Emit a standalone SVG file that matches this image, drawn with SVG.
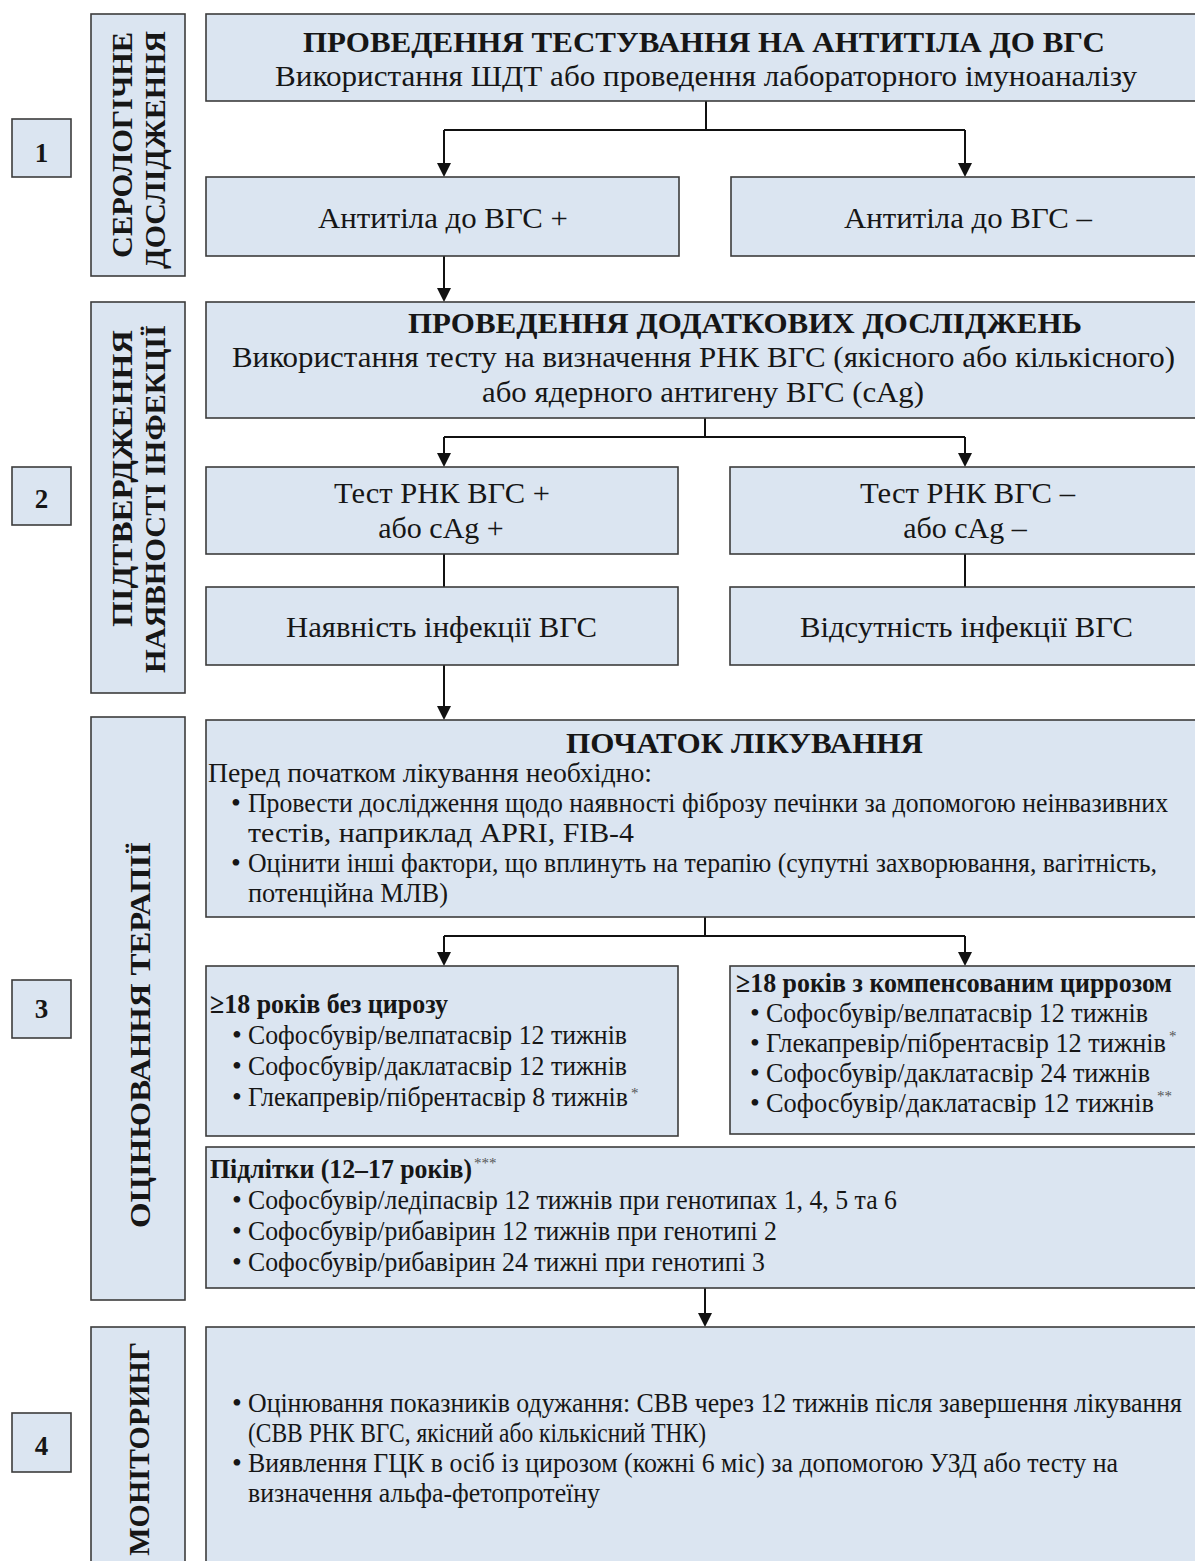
<svg xmlns="http://www.w3.org/2000/svg" width="1195" height="1561" viewBox="0 0 1195 1561">
<defs>
<style>
.box{fill:#dbe5f1;stroke:#3c3c3c;stroke-width:1.6}
.t{font-family:"Liberation Serif","Times New Roman",serif;font-size:30px;fill:#161616}
.s{font-size:28px}
.b{font-weight:bold}
.ast{font-family:"Liberation Serif","Times New Roman",serif;font-size:15px;fill:#555}
.c{fill:none;stroke:#111;stroke-width:2}
</style>
<marker id="ah" markerUnits="userSpaceOnUse" markerWidth="14" markerHeight="14" refX="4" refY="7" orient="auto" viewBox="0 0 14 14">
<path d="M0,0 L14,7 L0,14 z" fill="#111"/>
</marker>
</defs>
<rect width="1195" height="1561" fill="#ffffff"/>

<g id="connectors">
<path class="c" d="M706,101 V130 M444,130 H965"/>
<path class="c" d="M444,130 V167" marker-end="url(#ah)"/>
<path class="c" d="M965,130 V167" marker-end="url(#ah)"/>
<path class="c" d="M444,256 V292" marker-end="url(#ah)"/>
<path class="c" d="M705,418 V437 M444,437 H965"/>
<path class="c" d="M444,437 V457" marker-end="url(#ah)"/>
<path class="c" d="M965,437 V457" marker-end="url(#ah)"/>
<path class="c" d="M444,554 V587 M965,554 V587"/>
<path class="c" d="M444,665 V710" marker-end="url(#ah)"/>
<path class="c" d="M705,917 V936 M444,936 H965"/>
<path class="c" d="M444,936 V956" marker-end="url(#ah)"/>
<path class="c" d="M965,936 V956" marker-end="url(#ah)"/>
<path class="c" d="M705,1288 V1317" marker-end="url(#ah)"/>
</g>

<g id="step1">
<rect class="box" x="12" y="119" width="59" height="58"/>
<text class="t b" x="41.5" y="162" text-anchor="middle" style="font-size:27px">1</text>
</g>
<g id="step2">
<rect class="box" x="12" y="467" width="59" height="58"/>
<text class="t b" x="41.5" y="508" text-anchor="middle" style="font-size:27px">2</text>
</g>
<g id="step3">
<rect class="box" x="12" y="980" width="59" height="58"/>
<text class="t b" x="41.5" y="1018" text-anchor="middle" style="font-size:27px">3</text>
</g>
<g id="step4">
<rect class="box" x="12" y="1413" width="59" height="59"/>
<text class="t b" x="41.5" y="1455" text-anchor="middle" style="font-size:27px">4</text>
</g>

<g id="side1">
<rect class="box" x="91" y="14" width="94" height="262"/>
<text class="t b" transform="translate(132,258) rotate(-90)" textLength="226" lengthAdjust="spacingAndGlyphs">СЕРОЛОГІЧНЕ</text>
<text class="t b" transform="translate(165,269) rotate(-90)" textLength="238" lengthAdjust="spacingAndGlyphs">ДОСЛІДЖЕННЯ</text>
</g>
<g id="side2">
<rect class="box" x="91" y="302" width="94" height="391"/>
<text class="t b" transform="translate(132,627) rotate(-90)" textLength="297" lengthAdjust="spacingAndGlyphs">ПІДТВЕРДЖЕННЯ</text>
<text class="t b" transform="translate(165,673) rotate(-90)" textLength="348" lengthAdjust="spacingAndGlyphs">НАЯВНОСТІ ІНФЕКЦІЇ</text>
</g>
<g id="side3">
<rect class="box" x="91" y="717" width="94" height="583"/>
<text class="t b" transform="translate(150,1228) rotate(-90)" textLength="386" lengthAdjust="spacingAndGlyphs">ОЦІНЮВАННЯ ТЕРАПІЇ</text>
</g>
<g id="side4">
<rect class="box" x="91" y="1327" width="94" height="240"/>
<text class="t b" transform="translate(149,1342) rotate(-90)" text-anchor="end">МОНІТОРИНГ</text>
</g>

<g id="antibody-test">
<rect class="box" x="206" y="14" width="992" height="87"/>
<text class="t b" x="303" y="52" textLength="802" lengthAdjust="spacingAndGlyphs">ПРОВЕДЕННЯ ТЕСТУВАННЯ НА АНТИТІЛА ДО ВГС</text>
<text class="t" x="275" y="86" textLength="862" lengthAdjust="spacingAndGlyphs">Використання ШДТ або проведення лабораторного імуноаналізу</text>
</g>
<g id="ab-pos">
<rect class="box" x="206" y="177" width="473" height="79"/>
<text class="t" x="318" y="228" textLength="250" lengthAdjust="spacingAndGlyphs">Антитіла до ВГС +</text>
</g>
<g id="ab-neg">
<rect class="box" x="731" y="177" width="467" height="79"/>
<text class="t" x="844" y="228" textLength="248" lengthAdjust="spacingAndGlyphs">Антитіла до ВГС –</text>
</g>

<g id="additional-tests">
<rect class="box" x="206" y="302" width="992" height="116"/>
<text class="t b" x="408" y="333" textLength="674" lengthAdjust="spacingAndGlyphs">ПРОВЕДЕННЯ ДОДАТКОВИХ ДОСЛІДЖЕНЬ</text>
<text class="t" x="232" y="367" textLength="943" lengthAdjust="spacingAndGlyphs">Використання тесту на визначення РНК ВГС (якісного або кількісного)</text>
<text class="t" x="482" y="402" textLength="442" lengthAdjust="spacingAndGlyphs">або ядерного антигену ВГС (cAg)</text>
</g>
<g id="rna-pos">
<rect class="box" x="206" y="467" width="472" height="87"/>
<text class="t" x="334" y="503" textLength="216" lengthAdjust="spacingAndGlyphs">Тест РНК ВГС +</text>
<text class="t" x="441" y="538" text-anchor="middle">або cAg +</text>
</g>
<g id="rna-neg">
<rect class="box" x="730" y="467" width="468" height="87"/>
<text class="t" x="860" y="503" textLength="215" lengthAdjust="spacingAndGlyphs">Тест РНК ВГС –</text>
<text class="t" x="965" y="538" text-anchor="middle">або cAg –</text>
</g>
<g id="inf-pos">
<rect class="box" x="206" y="587" width="472" height="78"/>
<text class="t" x="286" y="637" textLength="311" lengthAdjust="spacingAndGlyphs">Наявність інфекції ВГС</text>
</g>
<g id="inf-neg">
<rect class="box" x="730" y="587" width="468" height="78"/>
<text class="t" x="800" y="637" textLength="333" lengthAdjust="spacingAndGlyphs">Відсутність інфекції ВГС</text>
</g>

<g id="treatment-start">
<rect class="box" x="206" y="720" width="992" height="197"/>
<text class="t b" x="566" y="753" textLength="357" lengthAdjust="spacingAndGlyphs">ПОЧАТОК ЛІКУВАННЯ</text>
<text class="t s" x="208" y="782" textLength="444" lengthAdjust="spacingAndGlyphs">Перед початком лікування необхідно:</text>
<text class="t s" x="236" y="812" text-anchor="middle">•</text>
<text class="t s" x="248" y="812" textLength="920" lengthAdjust="spacingAndGlyphs">Провести дослідження щодо наявності фіброзу печінки за допомогою неінвазивних</text>
<text class="t s" x="248" y="842" textLength="386" lengthAdjust="spacingAndGlyphs">тестів, наприклад APRI, FIB-4</text>
<text class="t s" x="236" y="872" text-anchor="middle">•</text>
<text class="t s" x="248" y="872" textLength="909" lengthAdjust="spacingAndGlyphs">Оцінити інші фактори, що вплинуть на терапію (супутні захворювання, вагітність,</text>
<text class="t s" x="248" y="902" textLength="200" lengthAdjust="spacingAndGlyphs">потенційна МЛВ)</text>
</g>

<g id="no-cirrhosis">
<rect class="box" x="206" y="966" width="472" height="170"/>
<text class="t s b" x="210" y="1013" textLength="238" lengthAdjust="spacingAndGlyphs">≥18 років без цирозу</text>
<text class="t s" x="237" y="1044" text-anchor="middle">•</text>
<text class="t s" x="248" y="1044" textLength="379" lengthAdjust="spacingAndGlyphs">Софосбувір/велпатасвір 12 тижнів</text>
<text class="t s" x="237" y="1075" text-anchor="middle">•</text>
<text class="t s" x="248" y="1075" textLength="379" lengthAdjust="spacingAndGlyphs">Софосбувір/даклатасвір 12 тижнів</text>
<text class="t s" x="237" y="1106" text-anchor="middle">•</text>
<text class="t s" x="248" y="1106" textLength="380" lengthAdjust="spacingAndGlyphs">Глекапревір/пібрентасвір 8 тижнів</text>
<text class="ast" x="631" y="1098">*</text>
</g>

<g id="cirrhosis">
<rect class="box" x="730" y="966" width="468" height="168"/>
<text class="t s b" x="736" y="992" textLength="436" lengthAdjust="spacingAndGlyphs">≥18 років з компенсованим циррозом</text>
<text class="t s" x="755" y="1022" text-anchor="middle">•</text>
<text class="t s" x="766" y="1022" textLength="382" lengthAdjust="spacingAndGlyphs">Софосбувір/велпатасвір 12 тижнів</text>
<text class="t s" x="755" y="1052" text-anchor="middle">•</text>
<text class="t s" x="766" y="1052" textLength="400" lengthAdjust="spacingAndGlyphs">Глекапревір/пібрентасвір 12 тижнів</text>
<text class="ast" x="1169" y="1041">*</text>
<text class="t s" x="755" y="1082" text-anchor="middle">•</text>
<text class="t s" x="766" y="1082" textLength="384" lengthAdjust="spacingAndGlyphs">Софосбувір/даклатасвір 24 тижнів</text>
<text class="t s" x="755" y="1112" text-anchor="middle">•</text>
<text class="t s" x="766" y="1112" textLength="388" lengthAdjust="spacingAndGlyphs">Софосбувір/даклатасвір 12 тижнів</text>
<text class="ast" x="1157" y="1101">**</text>
</g>

<g id="teens">
<rect class="box" x="206" y="1147" width="992" height="141"/>
<text class="t s b" x="210" y="1178" textLength="262" lengthAdjust="spacingAndGlyphs">Підлітки (12–17 років)</text>
<text class="ast" x="474" y="1168">***</text>
<text class="t s" x="237" y="1209" text-anchor="middle">•</text>
<text class="t s" x="248" y="1209" textLength="649" lengthAdjust="spacingAndGlyphs">Софосбувір/ледіпасвір 12 тижнів при генотипах 1, 4, 5 та 6</text>
<text class="t s" x="237" y="1240" text-anchor="middle">•</text>
<text class="t s" x="248" y="1240" textLength="529" lengthAdjust="spacingAndGlyphs">Софосбувір/рибавірин 12 тижнів при генотипі 2</text>
<text class="t s" x="237" y="1271" text-anchor="middle">•</text>
<text class="t s" x="248" y="1271" textLength="517" lengthAdjust="spacingAndGlyphs">Софосбувір/рибавірин 24 тижні при генотипі 3</text>
</g>

<g id="monitoring">
<rect class="box" x="206" y="1327" width="992" height="240"/>
<text class="t s" x="237" y="1412" text-anchor="middle">•</text>
<text class="t s" x="248" y="1412" textLength="934" lengthAdjust="spacingAndGlyphs">Оцінювання показників одужання: СВВ через 12 тижнів після завершення лікування</text>
<text class="t s" x="248" y="1442" textLength="458" lengthAdjust="spacingAndGlyphs">(СВВ РНК ВГС, якісний або кількісний ТНК)</text>
<text class="t s" x="237" y="1472" text-anchor="middle">•</text>
<text class="t s" x="248" y="1472" textLength="870" lengthAdjust="spacingAndGlyphs">Виявлення ГЦК в осіб із цирозом (кожні 6 міс) за допомогою УЗД або тесту на</text>
<text class="t s" x="248" y="1502" textLength="352" lengthAdjust="spacingAndGlyphs">визначення альфа-фетопротеїну</text>
</g>
</svg>
